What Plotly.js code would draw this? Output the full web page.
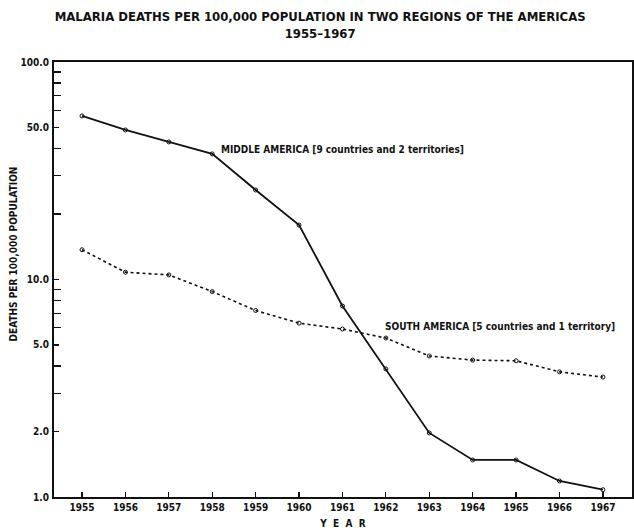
<!DOCTYPE html>
<html>
<head>
<meta charset="utf-8">
<script src="https://cdn.plot.ly/plotly-3.0.1.min.js"></script>
<style>html,body{margin:0;padding:0;background:#fff;}#chart{width:634px;height:531px;}</style>
</head>
<body>
<div id="chart"></div>
<script>
const years = [1955,1956,1957,1958,1959,1960,1961,1962,1963,1964,1965,1966,1967];
const middleAmerica = [56.5,48.7,42.9,37.8,25.8,17.8,7.55,3.88,1.97,1.48,1.48,1.185,1.08];
const southAmerica = [13.7,10.8,10.5,8.8,7.2,6.3,5.92,5.38,4.45,4.26,4.23,3.76,3.56];
const yTickVals = [1,2,5,10,50,100];
const yTickText = ["1.0","2.0","5.0","10.0","50.0","100.0"];
const yMinorVals = [3,4,6,7,8,9,20,30,40,60,70,80,90];

const FONT = '"Liberation Sans Narrow", "DejaVu Sans Condensed", "Liberation Sans", sans-serif';

const traces = [
  {x: years, y: middleAmerica, type: 'scatter', mode: 'lines+markers', name: 'Middle America',
   line: {color: '#111', width: 1.8, dash: 'solid'},
   marker: {symbol: 'circle-open', size: 4, color: '#111', line: {width: 1}}},
  {x: years, y: southAmerica, type: 'scatter', mode: 'lines+markers', name: 'South America',
   line: {color: '#111', width: 1.6, dash: 'dot'},
   marker: {symbol: 'circle-open', size: 4, color: '#111', line: {width: 1}}}
];

const layout = {
  width: 634, height: 531,
  paper_bgcolor: '#fff', plot_bgcolor: '#fff',
  margin: {l: 54, r: 2, t: 62, b: 34},
  showlegend: false,
  font: {family: FONT, color: '#111', size: 10},
  title: {
    text: '<b>MALARIA DEATHS PER 100,000 POPULATION IN TWO REGIONS OF THE AMERICAS<br>1955–1967</b>',
    font: {family: FONT, size: 13, color: '#111'},
    x: 0.505, xanchor: 'center', y: 0.961, yanchor: 'middle'
  },
  xaxis: {
    range: [1954.355, 1967.67],
    tickvals: years,
    ticktext: years.map(String),
    ticks: 'inside', ticklen: 5, tickwidth: 1.2, tickcolor: '#111',
    showgrid: false, zeroline: false,
    showline: true, linewidth: 2, linecolor: '#111', mirror: true,
    tickfont: {family: FONT, size: 10, color: '#111', weight: 'bold'},
    title: {text: '<b>Y  E  A  R</b>', font: {family: FONT, size: 10, color: '#111'}, standoff: 8}
  },
  yaxis: {
    type: 'log',
    range: [0, 2],
    tickvals: yTickVals,
    ticktext: yTickText,
    ticks: 'inside', ticklen: 5, tickwidth: 1.2, tickcolor: '#111',
    minor: {tickvals: yMinorVals, ticks: 'inside', ticklen: 7, tickwidth: 1.2, tickcolor: '#111', showgrid: false},
    showgrid: false, zeroline: false,
    showline: true, linewidth: 2, linecolor: '#111', mirror: true,
    tickfont: {family: FONT, size: 10, color: '#111', weight: 'bold'},
    ticklabelstandoff: 1
  },
  annotations: [
    {text: '<b>DEATHS PER 100,000 POPULATION</b>', xref: 'paper', yref: 'paper',
     x: -0.07, y: 0.559, xanchor: 'center', yanchor: 'middle', textangle: -90, showarrow: false,
     font: {family: FONT, size: 10, color: '#111'}},
    {text: '<b>MIDDLE AMERICA [9 countries and 2 territories]</b>', xref: 'paper', yref: 'paper',
     x: 0.285, y: 0.80, xanchor: 'left', yanchor: 'middle', showarrow: false,
     font: {family: FONT, size: 10, color: '#111'}},
    {text: '<b>SOUTH AMERICA [5 countries and 1 territory]</b>', xref: 'paper', yref: 'paper',
     x: 0.569, y: 0.393, xanchor: 'left', yanchor: 'middle', showarrow: false,
     font: {family: FONT, size: 10, color: '#111'}}
  ]
};

Plotly.newPlot('chart', traces, layout, {displayModeBar: false, staticPlot: true});
</script>
</body>
</html>
